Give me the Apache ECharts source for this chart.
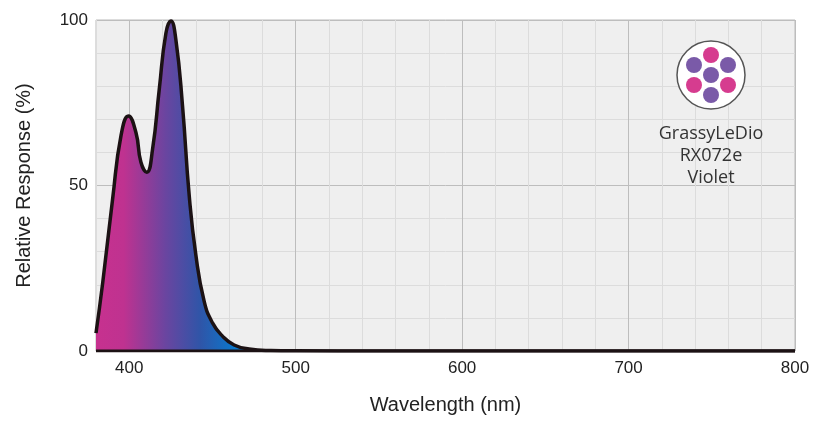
<!DOCTYPE html>
<html>
<head>
<meta charset="utf-8">
<script src="https://cdn.jsdelivr.net/npm/echarts@6/dist/echarts.min.js"></script>
<style>html,body{margin:0;background:#fff}#c{width:821px;height:430px}</style>
</head>
<body>
<div id="c"></div>
<script>
// spectrum
var wavelengths = [380, 384, 390, 395, 399.5, 404, 407, 410.5, 414, 418, 422, 425, 428, 432, 436, 440, 445, 450, 456, 463, 472, 485, 500, 550, 600, 700, 800];
var response    = [5.4, 20.5, 46, 65, 71, 66, 57, 54, 61, 79, 96, 99.7, 94, 74, 47, 29, 15, 8.5, 4.5, 1.8, 0.6, 0.15, 0.05, 0, 0, 0, 0];
var iconLabel = ['GrassyLeDio', 'RX072e', 'Violet'];

var chart = echarts.init(document.getElementById('c'));

var data = wavelengths.map(function (w, i) { return [w, response[i]]; });

var dots = [
    [0, -20, '#d63c8f'], [-17, -10, '#7a5aa8'], [17, -10, '#7a5aa8'], [0, 0, '#7a5aa8'],
    [-17, 10, '#d63c8f'], [17, 10, '#d63c8f'], [0, 20, '#7a5aa8']
];
var graphic = [{
    type: 'circle', shape: { cx: 711, cy: 75, r: 34 },
    style: { fill: '#fff', stroke: '#555', lineWidth: 1.5 }, z: 10
}];
dots.forEach(function (d) {
    graphic.push({ type: 'circle', shape: { cx: 711 + d[0], cy: 75 + d[1], r: 8 }, style: { fill: d[2] }, z: 11 });
});
iconLabel.forEach(function (t, i) {
    graphic.push({
        type: 'text', x: 711, y: 134 + i * 22, z: 11,
        style: { text: t, fill: '#333', font: '18px "Open Sans", sans-serif', align: 'center', verticalAlign: 'middle' }
    });
});

chart.setOption({
    animation: false,
    grid: { left: 96, right: 26, top: 20, bottom: 79, backgroundColor: '#efefef', show: true, borderColor: '#bbb', borderWidth: 1 },
    xAxis: {
        type: 'value', min: 380, max: 800, interval: 20,
        name: 'Wavelength (nm)', nameLocation: 'middle', nameGap: 44,
        nameTextStyle: { fontSize: 20, color: '#222', fontFamily: 'Arial, Liberation Sans' },
        axisLine: { show: false }, axisTick: { show: false },
        axisLabel: {
            fontSize: 17, color: '#222', margin: 9, fontFamily: 'Arial, Liberation Sans',
            formatter: function (v) { return v % 100 === 0 ? v : ''; }
        },
        splitLine: { lineStyle: { color: ['#dcdcdc', '#bdbdbd', '#dcdcdc', '#dcdcdc', '#dcdcdc'], width: 1 } }
    },
    yAxis: {
        type: 'value', min: 0, max: 100, interval: 10,
        name: 'Relative Response (%)', nameLocation: 'middle', nameGap: 62,
        nameTextStyle: { fontSize: 20, color: '#222', fontFamily: 'Arial, Liberation Sans' },
        axisLine: { show: false }, axisTick: { show: false },
        axisLabel: {
            fontSize: 17, color: '#222', margin: 8, fontFamily: 'Arial, Liberation Sans',
            formatter: function (v) { return v % 50 === 0 ? v : ''; }
        },
        splitLine: { lineStyle: { color: ['#bdbdbd', '#dcdcdc', '#dcdcdc', '#dcdcdc', '#dcdcdc'], width: 1 } }
    },
    graphic: graphic,
    series: [{
        type: 'line', data: data, smooth: 0.5, symbol: 'none',
        lineStyle: { color: '#1c1214', width: 3.5 },
        areaStyle: {
            opacity: 1,
            color: new echarts.graphic.LinearGradient(96, 0, 235, 0, [
                { offset: 0, color: '#c7318f' },
                { offset: 0.2, color: '#bf3290' },
                { offset: 0.5, color: '#6a45a0' },
                { offset: 0.75, color: '#2f55a8' },
                { offset: 1, color: '#0a78cc' }
            ], true)
        }
    }, {
        // bottom baseline
        type: 'line', data: [[380, 0], [800, 0]], symbol: 'none', silent: true,
        lineStyle: { color: '#1c1214', width: 3 }
    }]
});
</script>
</body>
</html>
